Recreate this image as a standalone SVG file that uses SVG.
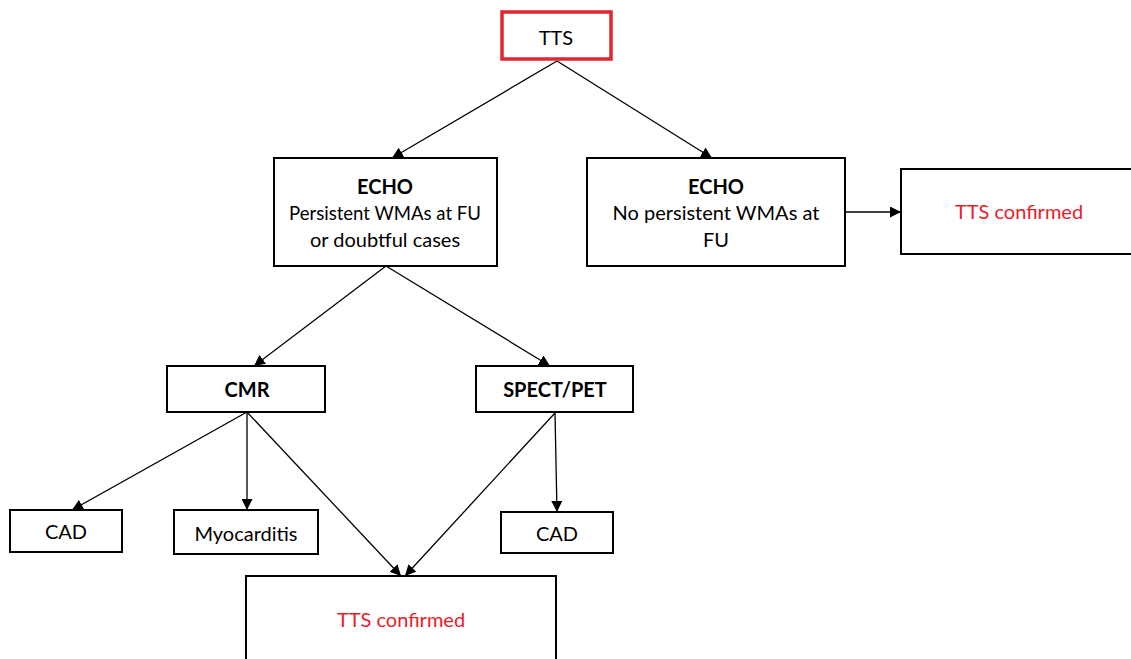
<svg xmlns="http://www.w3.org/2000/svg" width="1131" height="659" viewBox="0 0 1131 659">
<style>
.box{fill:#fff;stroke:#000;stroke-width:2}
.red{fill:#fff;stroke:#E0262F;stroke-width:3.5}
text{font-family:Lato,"Open Sans","Liberation Sans",sans-serif;font-size:20px;fill:#000;text-anchor:middle}
.b{font-weight:bold}
.rt{fill:#E8202A}
.c line{stroke:#000;stroke-width:1.3;marker-end:url(#ah)}
</style>
<defs>
<marker id="ah" viewBox="0 0 10 10" refX="10" refY="5" markerWidth="11" markerHeight="11" markerUnits="userSpaceOnUse" orient="auto">
<path d="M0,0 L10,5 L0,10 z" fill="#000"/>
</marker>
</defs>
<rect width="1131" height="659" fill="#fff"/>
<g class="c" id="connectors">
<line x1="557" y1="61" x2="392" y2="158"/>
<line x1="557" y1="61" x2="712" y2="158"/>
<line x1="845" y1="212" x2="901" y2="212"/>
<line x1="386" y1="266" x2="254" y2="366"/>
<line x1="386" y1="266" x2="550" y2="366"/>
<line x1="247" y1="412" x2="72" y2="510"/>
<line x1="247" y1="412" x2="247" y2="510"/>
<line x1="247" y1="412" x2="401" y2="576"/>
<line x1="555" y1="413" x2="405" y2="576"/>
<line x1="555" y1="413" x2="557" y2="512"/>
</g>
<g id="tts"><rect class="red" x="502" y="12" width="109" height="47"/><text x="556" y="45">TTS</text></g>
<g id="echo1"><rect class="box" x="274" y="158" width="223" height="108"/>
<text class="b" x="385" y="194">ECHO</text><text x="385" y="220" textLength="192" lengthAdjust="spacingAndGlyphs">Persistent WMAs at FU</text><text x="385" y="247">or doubtful cases</text></g>
<g id="echo2"><rect class="box" x="587" y="158" width="258" height="108"/>
<text class="b" x="716" y="194">ECHO</text><text x="716" y="220">No persistent WMAs at</text><text x="716" y="247">FU</text></g>
<g id="tts-confirmed-1"><rect class="box" x="901" y="169" width="232" height="85"/><text class="rt" x="1019" y="219">TTS confirmed</text></g>
<g id="cmr"><rect class="box" x="167" y="366" width="158" height="46"/><text class="b" x="247" y="397">CMR</text></g>
<g id="spect"><rect class="box" x="476" y="366" width="157" height="46"/><text class="b" x="555" y="397">SPECT/PET</text></g>
<g id="cad1"><rect class="box" x="10" y="510" width="112" height="42"/><text x="66" y="539">CAD</text></g>
<g id="myo"><rect class="box" x="174" y="510" width="144" height="44"/><text x="246" y="541">Myocarditis</text></g>
<g id="cad2"><rect class="box" x="501" y="512" width="112" height="41"/><text x="557" y="541">CAD</text></g>
<g id="tts-confirmed-2"><rect class="box" x="246" y="576" width="310" height="90"/><text class="rt" x="401" y="627">TTS confirmed</text></g>
</svg>
